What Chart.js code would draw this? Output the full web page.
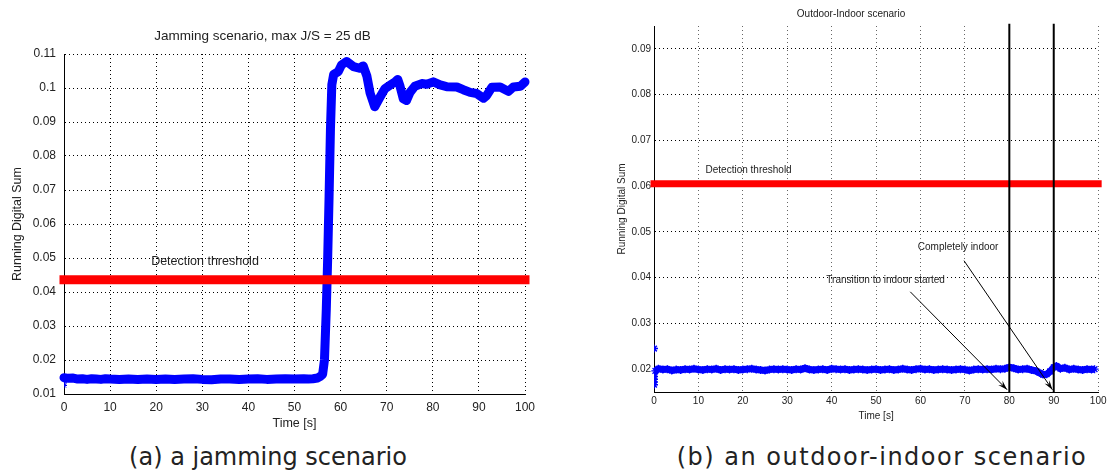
<!DOCTYPE html>
<html>
<head>
<meta charset="utf-8">
<script src="https://cdn.jsdelivr.net/npm/chart.js@4/dist/chart.umd.min.js"></script>
<style>
  html, body { margin: 0; padding: 0; background: #fff; }
  #wrap { position: relative; width: 1110px; height: 474px; overflow: hidden; }
  canvas { position: absolute; top: 0; }
  #chartA { left: 0; }
  #chartB { left: 600px; }
  .caption { position: absolute; top: 443px; font-family: "DejaVu Sans", Verdana, sans-serif; font-size: 24px; color: #222; white-space: nowrap; transform: translateX(-50%); }
</style>
</head>
<body>
<div id="wrap">
  <canvas id="chartA" width="545" height="440"></canvas>
  <canvas id="chartB" width="510" height="430"></canvas>
  <div class="caption" style="left:268px">(a) a jamming scenario</div>
  <div class="caption" style="left:882px; letter-spacing:1.5px">(b) an outdoor-indoor scenario</div>
</div>
<script>
// ---- (a) jamming scenario ----
const jamTime = [0, 1, 2, 3, 4, 5, 6, 7, 8, 9,
  10, 12, 14, 16, 18, 20, 22, 24, 26, 28, 30, 32, 34, 36, 38, 40, 42, 44, 46, 48, 50, 52,
  53, 54, 55,
  55.6, 56.1, 56.5, 56.9, 57.2, 57.5, 57.8, 58.1, 58.5,
  59.5, 60.2, 61.3, 62.8, 64.1, 64.9, 65.7, 66.4, 67.4, 68.5,
  69.6, 70.7, 71.8, 72.4, 72.9, 73.6, 74.3, 75.1, 76.1, 77.6,
  78.7, 80.1, 81.6, 83.0, 85.2, 86.6, 88.1, 89.5, 91.0, 91.7,
  92.8, 94.6, 96.4, 97.5, 99.0, 100];
const jamSum = [0.0148, 0.0146, 0.0147, 0.0144, 0.0145, 0.0143, 0.0145, 0.0144, 0.0143, 0.0145,
  0.0144, 0.0143, 0.0144, 0.0143, 0.0144, 0.0143, 0.0144, 0.0143, 0.0144, 0.0145, 0.0143, 0.0142, 0.0144, 0.0144, 0.0143, 0.0144, 0.0145, 0.0143, 0.0144, 0.0145, 0.0144, 0.0145,
  0.0144, 0.0145, 0.0147,
  0.0152, 0.0158, 0.0200, 0.0350, 0.0500, 0.0680, 0.0880, 0.1010, 0.1040,
  0.1048, 0.1068, 0.1078, 0.1063, 0.1058, 0.1065, 0.1035, 0.0985, 0.0945, 0.0972,
  0.0998, 0.1008, 0.1018, 0.1025, 0.1005, 0.0968, 0.0963, 0.0988, 0.1005, 0.1013,
  0.1011, 0.1018, 0.1009, 0.1004, 0.1003, 0.0995, 0.0987, 0.0984, 0.0970, 0.0978,
  0.1002, 0.1003, 0.0990, 0.1003, 0.1005, 0.1018];
const jamStartStars = [0.0125, 0.0133];
const jamThreshold = 0.0436;
const jamXTicks = [0, 10, 20, 30, 40, 50, 60, 70, 80, 90, 100];
const jamYTicks = [0.01, 0.02, 0.03, 0.04, 0.05, 0.06, 0.07, 0.08, 0.09, 0.1, 0.11];
const jamYLabels = ['0.01', '0.02', '0.03', '0.04', '0.05', '0.06', '0.07', '0.08', '0.09', '0.1', '0.11'];

// ---- (b) outdoor-indoor scenario ----
const indoorTime = [0.3, 1, 2, 3, 4, 5, 6, 7, 8, 9,
  10, 11, 12, 13, 14, 15, 16, 17, 18, 19,
  20, 21, 22, 23, 24, 25, 26, 27, 28, 29,
  30, 31, 32, 33, 34, 35, 36, 37, 38, 39,
  40, 41, 42, 43, 44, 45, 46, 47, 48, 49,
  50, 51, 52, 53, 54, 55, 56, 57, 58, 59,
  60, 61, 62, 63, 64, 65, 66, 67, 68, 69,
  70, 71, 72, 73, 74, 75, 76, 77, 78, 79,
  80, 81, 82, 83, 84, 85, 86,
  86.8, 87.6, 88.4, 89.2, 90, 90.6, 91.5, 92.5, 93.5, 94.5, 95.5, 96.5, 97.5, 98.5, 99.2];
const indoorSum = [0.0196, 0.0201, 0.0199, 0.0200, 0.0197, 0.0199, 0.0198, 0.0200, 0.0199, 0.0201,
  0.0199, 0.0198, 0.0200, 0.0199, 0.0201, 0.0198, 0.0200, 0.0199, 0.0200, 0.0198,
  0.0199, 0.0200, 0.0201, 0.0199, 0.0198, 0.0197, 0.0199, 0.0200, 0.0199, 0.0200,
  0.0199, 0.0198, 0.0200, 0.0199, 0.0202, 0.0199, 0.0198, 0.0199, 0.0200, 0.0198,
  0.0201, 0.0200, 0.0199, 0.0200, 0.0198, 0.0199, 0.0200, 0.0199, 0.0198, 0.0199,
  0.0200, 0.0198, 0.0199, 0.0200, 0.0198, 0.0199, 0.0201, 0.0199, 0.0198, 0.0200,
  0.0201, 0.0199, 0.0200, 0.0198, 0.0199, 0.0200, 0.0199, 0.0198, 0.0199, 0.0200,
  0.0199, 0.0197, 0.0199, 0.0200, 0.0199, 0.0200, 0.0199, 0.0201, 0.0200, 0.0201,
  0.0204, 0.0202, 0.0199, 0.0200, 0.0201, 0.0198, 0.0196,
  0.0192, 0.0188, 0.0189, 0.0195, 0.0204, 0.0207, 0.0201, 0.0203, 0.0199, 0.0201, 0.0199, 0.0198, 0.0200, 0.0199, 0.0200];
const indoorStartStars = [0.0245, 0.0190, 0.0184, 0.0178, 0.0172, 0.0166];
const indoorThreshold = 0.0605;
const indoorMarks = [80, 90];
const indoorXTicks = [0, 10, 20, 30, 40, 50, 60, 70, 80, 90, 100];
const indoorYTicks = [0.02, 0.03, 0.04, 0.05, 0.06, 0.07, 0.08, 0.09];
const indoorYLabels = ['0.02', '0.03', '0.04', '0.05', '0.06', '0.07', '0.08', '0.09'];

// text and arrows, in data units
const jamNotes = [{ text: 'Detection threshold', t: 18.9, v: 0.0491 }];
const indoorNotes = [
  { text: 'Detection threshold', t: 11.6, v: 0.0635 },
  { text: 'Transition to indoor started', t: 38.8, v: 0.0395 },
  { text: 'Completely indoor', t: 59.4, v: 0.0467 }
];
const indoorArrows = [
  { from: [57.7, 0.0369], to: [79.5, 0.0155] },
  { from: [69.8, 0.0437], to: [89.7, 0.0155] }
];

const notesPlugin = {
  id: 'notes',
  afterDatasetsDraw(chart, args, opts) {
    const { ctx, scales: { x, y } } = chart;
    ctx.save();
    ctx.fillStyle = '#222';
    ctx.strokeStyle = '#000';
    ctx.font = opts.font;
    ctx.textBaseline = 'middle';
    ctx.textAlign = 'left';
    (opts.labels || []).forEach(n => {
      ctx.fillText(n.text, x.getPixelForValue(n.t), y.getPixelForValue(n.v));
    });
    (opts.arrows || []).forEach(a => {
      const x1 = x.getPixelForValue(a.from[0]), y1 = y.getPixelForValue(a.from[1]);
      const x2 = x.getPixelForValue(a.to[0]), y2 = y.getPixelForValue(a.to[1]);
      ctx.lineWidth = 1;
      ctx.beginPath();
      ctx.moveTo(x1, y1);
      ctx.lineTo(x2, y2);
      ctx.stroke();
      const ang = Math.atan2(y2 - y1, x2 - x1);
      const len = 10, spread = 0.3;
      ctx.beginPath();
      ctx.moveTo(x2, y2);
      ctx.lineTo(x2 - len * Math.cos(ang - spread), y2 - len * Math.sin(ang - spread));
      ctx.lineTo(x2 - len * 0.6 * Math.cos(ang), y2 - len * 0.6 * Math.sin(ang));
      ctx.lineTo(x2 - len * Math.cos(ang + spread), y2 - len * Math.sin(ang + spread));
      ctx.closePath();
      ctx.fillStyle = '#000';
      ctx.fill();
    });
    ctx.restore();
  }
};

function pts(ts, vs) {
  return ts.map((t, i) => ({ x: t, y: vs[i] }));
}

function makeOptions(c) {
  return {
    responsive: false,
    animation: false,
    layout: { padding: { left: 0, right: c.padRight, top: 0, bottom: 0 } },
    plugins: {
      legend: { display: false },
      tooltip: { enabled: false },
      title: {
        display: true, text: c.title, color: '#222',
        font: { family: c.family, size: c.titleSize, weight: 'normal' },
        padding: c.titlePad
      },
      notes: { font: c.noteFont, labels: c.notes, arrows: c.arrows || [] }
    },
    scales: {
      x: {
        type: 'linear', min: 0, max: 100,
        afterBuildTicks: s => { s.ticks = c.xTicks.map(v => ({ value: v })); },
        afterFit: s => { s.height = c.xHeight; },
        ticks: { color: '#222', font: { family: c.family, size: c.tickSize }, padding: c.xPad, maxRotation: 0, autoSkip: false, callback: v => String(v) },
        grid: { color: c.gridColor, lineWidth: 1, drawTicks: false },
        border: { display: true, color: '#000', width: 1, dash: [1, 3] },
        title: { display: true, text: 'Time [s]', color: '#222', font: { family: c.family, size: c.labelSize }, padding: { top: 0, bottom: c.xTitlePad } }
      },
      y: {
        type: 'linear', min: c.yMin, max: c.yMax,
        afterBuildTicks: s => { s.ticks = c.yTicks.map(v => ({ value: v })); },
        afterFit: s => { s.width = c.yWidth; },
        ticks: { color: '#222', font: { family: c.family, size: c.tickSize }, padding: c.yPad, autoSkip: false, callback: (v, i) => c.yLabels[i] },
        grid: { color: '#000', lineWidth: 1, drawTicks: false },
        border: { display: true, color: '#000', width: 1, dash: [1, 3] },
        title: { display: true, text: 'Running Digital Sum', color: '#222', font: { family: c.family, size: c.labelSize }, padding: { top: c.yTitlePad, bottom: 0 } }
      }
    }
  };
}

new Chart(document.getElementById('chartA'), {
  type: 'line',
  data: {
    datasets: [
      {
        data: [{ x: 0, y: jamThreshold }, { x: 100, y: jamThreshold }],
        borderColor: '#ff0000', borderWidth: 9, pointRadius: 0, borderCapStyle: 'square', clip: 12
      },
      {
        data: jamStartStars.map(v => ({ x: 0, y: v })),
        showLine: false, pointStyle: 'star', pointRadius: 3, borderColor: '#0000ff', borderWidth: 1
      },
      {
        data: pts(jamTime, jamSum),
        borderColor: '#0000ff', borderWidth: 9, pointRadius: 0, borderJoinStyle: 'round', borderCapStyle: 'round', clip: 12
      }
    ]
  },
  options: makeOptions({
    title: 'Jamming scenario, max J/S = 25 dB',
    family: '"Liberation Sans", Arial, sans-serif',
    titleSize: 13.5, titlePad: { top: 28, bottom: 9.8 },
    tickSize: 12, labelSize: 12.5, noteFont: '12.5px "Liberation Sans", Arial, sans-serif',
    padRight: 20, xHeight: 46, yWidth: 64, xPad: 6, yPad: 8,
    xTitlePad: 9, yTitlePad: 10.5, gridColor: '#000',
    yMin: 0.01, yMax: 0.11, xTicks: jamXTicks, yTicks: jamYTicks, yLabels: jamYLabels,
    notes: jamNotes
  }),
  plugins: [notesPlugin]
});

new Chart(document.getElementById('chartB'), {
  type: 'line',
  data: {
    datasets: [
      ...indoorMarks.map(t => ({
        data: [{ x: t, y: 0.015 }, { x: t, y: 0.0955 }],
        borderColor: '#000', borderWidth: 2, pointRadius: 0, clip: 12
      })),
      {
        data: [{ x: 0, y: indoorThreshold }, { x: 100, y: indoorThreshold }],
        borderColor: '#ff0000', borderWidth: 7, pointRadius: 0, borderCapStyle: 'square', clip: 12
      },
      {
        data: indoorStartStars.map(v => ({ x: 0, y: v })),
        showLine: false, pointStyle: 'star', pointRadius: 4, borderColor: '#0000ff', borderWidth: 1.5
      },
      {
        data: pts(indoorTime, indoorSum),
        borderColor: '#0000ff', borderWidth: 7, borderJoinStyle: 'round',
        pointStyle: 'star', pointRadius: 4, pointBorderColor: '#0000ff', pointBorderWidth: 1.3, clip: 12
      }
    ]
  },
  options: makeOptions({
    title: 'Outdoor-Indoor scenario',
    family: '"Liberation Sans", Arial, sans-serif',
    titleSize: 10, titlePad: { top: 8, bottom: 6 },
    tickSize: 10, labelSize: 10, noteFont: '10px "Liberation Sans", Arial, sans-serif',
    padRight: 8, xHeight: 38, yWidth: 54, xPad: 3.5, yPad: 3,
    xTitlePad: 8, yTitlePad: 16, gridColor: '#666',
    yMin: 0.015, yMax: 0.095, xTicks: indoorXTicks, yTicks: indoorYTicks, yLabels: indoorYLabels,
    notes: indoorNotes, arrows: indoorArrows
  }),
  plugins: [notesPlugin]
});
</script>
</body>
</html>
